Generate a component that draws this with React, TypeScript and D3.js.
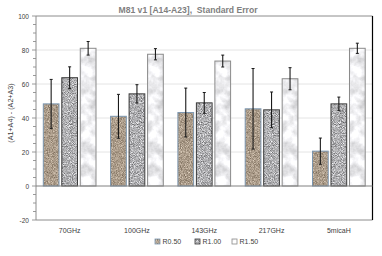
import * as d3 from 'd3';

const categories = ['70GHz', '100GHz', '143GHz', '217GHz', '5micaH'];
const seriesNames = ['R0.50', 'R1.00', 'R1.50'];
const r050 = [48.3, 41, 43.2, 45.4, 20.5];
const r100 = [63.7, 54.2, 48.9, 44.8, 48.3];
const r150 = [81, 77.5, 73.5, 63.1, 81];
const r050Err = [14.4, 12.9, 14.4, 23.7, 7.7];
const r100Err = [6.4, 5.4, 6.1, 10.5, 4];
const r150Err = [4, 3.3, 3.5, 6.5, 3];
const yTicks = [-20, 0, 20, 40, 60, 80, 100];

const values = [r050, r100, r150];
const errors = [r050Err, r100Err, r150Err];
const filters = ['url(#fBrown)', 'url(#fGranite)', 'url(#fMarble)'];
const strokes = ['#7b96b0', '#3a3a3a', '#8a8a8a'];
const fontFam = '"Liberation Sans", Arial, sans-serif';

const W = 382, H = 256;
const m = { left: 36, right: 9.5, top: 16, bottom: 36 };

export default function App() {
  const x = d3.scaleBand().domain(categories).range([m.left, W - m.right]);
  const inner = d3.scaleBand().domain(seriesNames)
    .range([7.3, x.bandwidth() - 7.3]).paddingInner(0.15);
  const y = d3.scaleLinear().domain([-20, 100]).range([H - m.bottom, m.top]);
  const minor = d3.range(-20, 100.1, 5);

  return (
    <div style={{ position: 'absolute', left: 0, top: 0 }}>
      <svg width={W} height={H} style={{ display: 'block', background: '#fff' }}>
        <defs>
          <filter id="fBrown" x="0" y="0" width="1" height="1" colorInterpolationFilters="sRGB">
            <feTurbulence type="fractalNoise" baseFrequency="1.2" numOctaves="2" seed="3" />
            <feColorMatrix type="matrix" values="0.6 0 0 0 0.37  0.6 0 0 0 0.31  0.6 0 0 0 0.24  0 0 0 0 1" />
            <feComposite operator="in" in2="SourceGraphic" />
          </filter>
          <filter id="fGranite" x="0" y="0" width="1" height="1" colorInterpolationFilters="sRGB">
            <feTurbulence type="fractalNoise" baseFrequency="1.1" numOctaves="2" seed="7" />
            <feColorMatrix type="matrix" values="0.9 0 0 0 0.24  0.9 0 0 0 0.24  0.9 0 0 0 0.25  0 0 0 0 1" />
            <feComposite operator="in" in2="SourceGraphic" />
          </filter>
          <filter id="fMarble" x="0" y="0" width="1" height="1" colorInterpolationFilters="sRGB">
            <feTurbulence type="fractalNoise" baseFrequency="0.09" numOctaves="4" seed="11" />
            <feColorMatrix type="matrix" values="0.45 0 0 0 0.71  0.45 0 0 0 0.71  0.45 0 0 0 0.72  0 0 0 0 1" />
            <feComposite operator="in" in2="SourceGraphic" />
          </filter>
        </defs>

        <text x={188} y={13} textAnchor="middle" fontFamily={fontFam} fontSize={8.6}
          fontWeight="bold" fill="#808080" style={{ whiteSpace: 'pre' }}>
          M81 v1 [A14-A23],  Standard Error
        </text>

        {yTicks.map(t => (
          <g key={t}>
            {t !== 0 && t !== -20 && t !== 100 && (
              <line x1={m.left} x2={W - m.right} y1={y(t)} y2={y(t)} stroke="#e4e4e4" strokeWidth={1} />
            )}
            <text x={m.left - 7} y={y(t) + 2.5} textAnchor="end" fontFamily={fontFam}
              fontSize={6.5} fill="#404040">{t}</text>
          </g>
        ))}
        {minor.map(t => (
          <line key={t} x1={m.left - (t % 20 === 0 ? 4 : 3)} x2={m.left} y1={y(t)} y2={y(t)}
            stroke="#808080" strokeWidth={0.8} />
        ))}
        <line x1={m.left} x2={W - m.right} y1={y(100)} y2={y(100)} stroke="#8c8c8c" strokeWidth={1} />
        <line x1={m.left} x2={W - m.right} y1={y(-20)} y2={y(-20)} stroke="#8c8c8c" strokeWidth={1} />
        <line x1={m.left} x2={m.left} y1={y(100)} y2={y(-20)} stroke="#8c8c8c" strokeWidth={1} />
        <line x1={W - m.right} x2={W - m.right} y1={y(100)} y2={y(-20)} stroke="#000" strokeWidth={1.2} />

        {categories.map((c, i) => (
          <g key={c} transform={`translate(${x(c)},0)`}>
            {seriesNames.map((s, j) => {
              const v = values[j][i];
              const e = errors[j][i];
              const bx = inner(s)!;
              const bw = inner.bandwidth();
              const cx = bx + bw / 2;
              return (
                <g key={s}>
                  <rect x={bx} y={y(v)} width={bw} height={y(0) - y(v)} fill="#000" filter={filters[j]} />
                  <rect x={bx} y={y(v)} width={bw} height={y(0) - y(v)} fill="none"
                    stroke={strokes[j]} strokeWidth={1} />
                  <line x1={cx} x2={cx} y1={y(v + e)} y2={y(v - e)} stroke="#1a1a1a" strokeWidth={1.1} />
                  <line x1={cx - 1.5} x2={cx + 1.5} y1={y(v + e)} y2={y(v + e)} stroke="#1a1a1a" strokeWidth={1} />
                  <line x1={cx - 1.5} x2={cx + 1.5} y1={y(v - e)} y2={y(v - e)} stroke="#1a1a1a" strokeWidth={1} />
                </g>
              );
            })}
          </g>
        ))}
        <line x1={m.left} x2={W - m.right} y1={y(0)} y2={y(0)} stroke="#808080" strokeWidth={1} />

        {categories.map(c => (
          <text key={c} x={x(c)! + x.bandwidth() / 2} y={H - m.bottom + 13} textAnchor="middle"
            fontFamily={fontFam} fontSize={7} fill="#404040">{c}</text>
        ))}

        <text transform={`translate(13,${(y(100) + y(-20)) / 2 - 5}) rotate(-90)`} textAnchor="middle"
          fontFamily={fontFam} fontSize={7.2} fill="#404040">(A1+A4) - (A2+A3)</text>

        {seriesNames.map((s, j) => {
          const lx = [155, 195, 232][j];
          return (
            <g key={s} transform={`translate(${lx},${H - 12})`}>
              <rect x={0} y={-5} width={5} height={5} fill="#000" filter={filters[j]} />
              <rect x={0} y={-5} width={5} height={5} fill="none" stroke={strokes[j]} strokeWidth={0.8} />
              <text x={7.5} y={0} fontFamily={fontFam} fontSize={7} fill="#404040">{s}</text>
            </g>
          );
        })}
      </svg>
    </div>
  );
}
